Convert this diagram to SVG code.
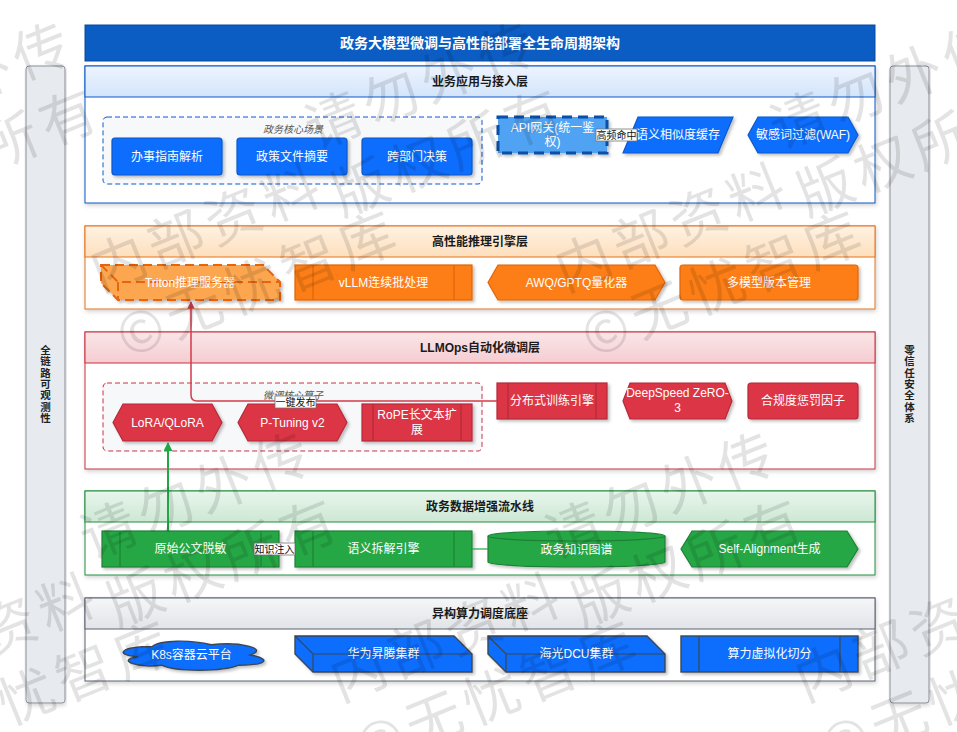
<svg xmlns="http://www.w3.org/2000/svg" width="957" height="732" viewBox="0 0 957 732">
<defs>
<filter id="sh" x="-10%" y="-20%" width="130%" height="150%"><feDropShadow dx="2" dy="2" stdDeviation="1.5" flood-color="#000" flood-opacity="0.25"/></filter>
<filter id="shl" x="-5%" y="-5%" width="110%" height="115%"><feDropShadow dx="1" dy="2" stdDeviation="2" flood-color="#000" flood-opacity="0.18"/></filter>
<linearGradient id="gB" x1="0" y1="0" x2="0" y2="1"><stop offset="0" stop-color="#edf4fe"/><stop offset="1" stop-color="#d3e4fb"/></linearGradient>
<linearGradient id="gO" x1="0" y1="0" x2="0" y2="1"><stop offset="0" stop-color="#fff2e2"/><stop offset="1" stop-color="#fddfbd"/></linearGradient>
<linearGradient id="gR" x1="0" y1="0" x2="0" y2="1"><stop offset="0" stop-color="#fbe6e8"/><stop offset="1" stop-color="#f5ccd1"/></linearGradient>
<linearGradient id="gG" x1="0" y1="0" x2="0" y2="1"><stop offset="0" stop-color="#e8f5ec"/><stop offset="1" stop-color="#cde8d4"/></linearGradient>
<linearGradient id="gK" x1="0" y1="0" x2="0" y2="1"><stop offset="0" stop-color="#f5f6f8"/><stop offset="1" stop-color="#e1e4e8"/></linearGradient>
<marker id="arR" viewBox="0 0 10 10" refX="9" refY="5" markerWidth="5" markerHeight="5" orient="auto"><path d="M0,0 L10,5 L0,10 Z" fill="#d33a4a"/></marker>
<marker id="arG" viewBox="0 0 10 10" refX="9" refY="5" markerWidth="4.5" markerHeight="4.5" orient="auto"><path d="M0,0 L10,5 L0,10 Z" fill="#22a745"/></marker>
</defs>
<style>
text{font-family:"Liberation Sans","Noto Sans CJK SC",sans-serif;}
.t{font-size:12px;fill:#fff;text-anchor:middle;dominant-baseline:central;}
.h{font-size:12px;font-weight:bold;fill:#1a1a1a;text-anchor:middle;dominant-baseline:central;}
.side{font-size:10.5px;font-weight:bold;fill:#222;text-anchor:middle;dominant-baseline:central;}
.grp{font-size:10px;font-style:italic;fill:#555;text-anchor:middle;dominant-baseline:central;}
.lbl{font-size:10px;fill:#111;text-anchor:middle;dominant-baseline:central;}
.lblbox{fill:#fff;stroke:#777;stroke-width:0.8;}
.blue{fill:#0d6efd;stroke:#0a58ca;stroke-width:1.2;filter:url(#sh);}
.orange{fill:#fd7e14;stroke:#e0650b;stroke-width:1.2;filter:url(#sh);}
.red{fill:#dc3545;stroke:#b42a38;stroke-width:1.2;filter:url(#sh);}
.green{fill:#28a745;stroke:#1e8035;stroke-width:1.2;filter:url(#sh);}
.cmp{fill:#0d6efd;stroke:#3b4654;stroke-width:1.4;filter:url(#sh);}
.in{fill:none;stroke-width:1.2;}
.wm{font-family:"Noto Sans CJK SC",sans-serif;font-size:56px;letter-spacing:6px;fill:#000;fill-opacity:0.11;}
</style>
<rect width="957" height="732" fill="#fff"/>

<!-- sidebars -->
<g id="side-left">
<rect x="26" y="66" width="39" height="637" rx="3" fill="#e7eaee" stroke="#8a9099" stroke-width="1" filter="url(#shl)"/>
<text class="side"><tspan x="45.5" y="350">全</tspan><tspan x="45.5" y="361.3">链</tspan><tspan x="45.5" y="372.6">路</tspan><tspan x="45.5" y="383.9">可</tspan><tspan x="45.5" y="395.2">观</tspan><tspan x="45.5" y="406.5">测</tspan><tspan x="45.5" y="417.8">性</tspan></text>
</g>
<g id="side-right">
<rect x="890" y="66" width="39" height="637" rx="3" fill="#e7eaee" stroke="#8a9099" stroke-width="1" filter="url(#shl)"/>
<text class="side"><tspan x="909.5" y="350">零</tspan><tspan x="909.5" y="361.3">信</tspan><tspan x="909.5" y="372.6">任</tspan><tspan x="909.5" y="383.9">安</tspan><tspan x="909.5" y="395.2">全</tspan><tspan x="909.5" y="406.5">体</tspan><tspan x="909.5" y="417.8">系</tspan></text>
</g>

<!-- title -->
<g id="title">
<rect x="85" y="25" width="790" height="36" fill="#0b5cc3" stroke="#084a9e" stroke-width="1"/>
<text x="480" y="43" style="font-size:14px;font-weight:bold;fill:#fff;text-anchor:middle;dominant-baseline:central;">政务大模型微调与高性能部署全生命周期架构</text>
</g>

<!-- layer 1 -->
<g id="layer-app">
<rect x="85" y="66" width="790" height="137" fill="#fff" stroke="#0a58ca" stroke-width="1" filter="url(#shl)"/>
<rect x="85" y="66" width="790" height="31" fill="url(#gB)" stroke="#0a58ca" stroke-width="1"/>
<text class="h" x="480" y="81.5">业务应用与接入层</text>
</g>
<g id="grp-scene">
<rect x="103" y="117" width="379" height="67" rx="4" fill="#f6f8fa" stroke="#0a58ca" stroke-width="1" stroke-dasharray="5 3"/>
<text class="grp" x="293" y="129">政务核心场景</text>
</g>
<g id="n-guide"><rect class="blue" x="112" y="138" width="110" height="37" rx="3"/><text class="t" x="167" y="156.5">办事指南解析</text></g>
<g id="n-policy"><rect class="blue" x="237" y="138" width="110" height="37" rx="3"/><text class="t" x="292" y="156.5">政策文件摘要</text></g>
<g id="n-cross"><rect class="blue" x="362" y="138" width="110" height="37" rx="3"/><text class="t" x="417" y="156.5">跨部门决策</text></g>
<g id="n-api"><rect x="498" y="117" width="109" height="36" fill="#4fa3f2" stroke="#0a4fa8" stroke-width="3" stroke-dasharray="10 6" filter="url(#sh)"/><text class="t"><tspan x="552.5" y="128">API网关(统一鉴</tspan><tspan x="552.5" y="142">权)</tspan></text></g>
<g id="n-cache"><path class="blue" d="M623,153 L638,117 H733 L718,153 Z"/><text class="t" x="678" y="135">语义相似度缓存</text></g>
<g id="n-waf"><path class="blue" d="M748,135 L758,117 H848 L858,135 L848,153 H758 Z"/><text class="t" x="803" y="135">敏感词过滤(WAF)</text></g>

<!-- layer 2 -->
<g id="layer-infer">
<rect x="85" y="226" width="790" height="83" fill="#fff" stroke="#e8701a" stroke-width="1" filter="url(#shl)"/>
<rect x="85" y="226" width="790" height="31" fill="url(#gO)" stroke="#e8701a" stroke-width="1"/>
<text class="h" x="480" y="241.5">高性能推理引擎层</text>
</g>
<g id="n-triton"><path d="M101,265 H263 L280,282 V300 H118 L101,283 Z" fill="#fca650" stroke="#e8640f" stroke-width="2" stroke-dasharray="9 5" filter="url(#sh)"/><path d="M101,265 L118,282 H280 M118,282 V300" fill="none" stroke="#e8640f" stroke-width="2" stroke-dasharray="9 5"/><text class="t" x="190" y="282.5">Triton推理服务器</text></g>
<g id="n-vllm"><rect class="orange" x="295" y="265" width="177" height="35"/><path class="in" stroke="#e0650b" d="M313,265 V300 M454,265 V300"/><text class="t" x="383.5" y="282.5">vLLM连续批处理</text></g>
<g id="n-awq"><path class="orange" d="M488,282.5 L498,265 H655 L665,282.5 L655,300 H498 Z"/><text class="t" x="576.5" y="282.5">AWQ/GPTQ量化器</text></g>
<g id="n-ver"><rect class="orange" x="680" y="265" width="178" height="35" rx="3"/><text class="t" x="769" y="282.5">多模型版本管理</text></g>

<!-- layer 3 -->
<g id="layer-llmops">
<rect x="85" y="332" width="790" height="137" fill="#fff" stroke="#c9303e" stroke-width="1" filter="url(#shl)"/>
<rect x="85" y="332" width="790" height="31" fill="url(#gR)" stroke="#c9303e" stroke-width="1"/>
<text class="h" x="480" y="347.5">LLMOps自动化微调层</text>
</g>
<g id="grp-op">
<rect x="103" y="383" width="379" height="68" rx="4" fill="#f6f8fa" stroke="#c9303e" stroke-width="1" stroke-dasharray="5 3"/>
<text class="grp" x="293" y="395">微调核心算子</text>
</g>
<g id="n-lora"><path class="red" d="M113,422.5 L123,404 H212 L222,422.5 L212,441 H123 Z"/><text class="t" x="167.5" y="422.5">LoRA/QLoRA</text></g>
<g id="n-ptune"><path class="red" d="M238,422.5 L248,404 H337 L347,422.5 L337,441 H248 Z"/><text class="t" x="292.5" y="422.5">P-Tuning v2</text></g>
<g id="n-rope"><rect class="red" x="362" y="404" width="110" height="37"/><path class="in" stroke="#b42a38" d="M373,404 V441 M461,404 V441"/><text class="t"><tspan x="417" y="415">RoPE长文本扩</tspan><tspan x="417" y="430">展</tspan></text></g>
<g id="n-dist"><rect class="red" x="497" y="383" width="110" height="36"/><path class="in" stroke="#b42a38" d="M508,383 V419 M596,383 V419"/><text class="t" x="552" y="401">分布式训练引擎</text></g>
<g id="n-ds"><path class="red" d="M623,401 L630,383 H725 L732,401 L725,419 H630 Z"/><text class="t"><tspan x="677.5" y="393">DeepSpeed ZeRO-</tspan><tspan x="677.5" y="408">3</tspan></text></g>
<g id="n-comp"><rect class="red" x="748" y="383" width="110" height="36" rx="3"/><text class="t" x="803" y="401">合规度惩罚因子</text></g>

<!-- layer 4 -->
<g id="layer-data">
<rect x="85" y="491" width="790" height="84" fill="#fff" stroke="#1e8e3e" stroke-width="1" filter="url(#shl)"/>
<rect x="85" y="491" width="790" height="31" fill="url(#gG)" stroke="#1e8e3e" stroke-width="1"/>
<text class="h" x="480" y="506.5">政务数据增强流水线</text>
</g>
<g id="n-raw"><rect class="green" x="102" y="531" width="177" height="36"/><path class="in" stroke="#1e8035" d="M120,531 V567 M261,531 V567"/><text class="t" x="190.5" y="549">原始公文脱敏</text></g>
<g id="n-sem"><rect class="green" x="295" y="531" width="177" height="36"/><path class="in" stroke="#1e8035" d="M313,531 V567 M454,531 V567"/><text class="t" x="383.5" y="549">语义拆解引擎</text></g>
<g id="n-kg"><path class="green" d="M488,536 A88.5,5 0 0 1 665,536 V562 A88.5,5 0 0 1 488,562 Z"/><path class="in" stroke="#1e8035" d="M488,536 A88.5,5 0 0 0 665,536"/><text class="t" x="576.5" y="550">政务知识图谱</text></g>
<g id="n-self"><path class="green" d="M681,549 L692,531 H847 L858,549 L847,567 H692 Z"/><text class="t" x="769.5" y="549">Self-Alignment生成</text></g>

<!-- layer 5 -->
<g id="layer-compute">
<rect x="85" y="598" width="790" height="83" fill="#fff" stroke="#5a6270" stroke-width="1" filter="url(#shl)"/>
<rect x="85" y="598" width="790" height="31" fill="url(#gK)" stroke="#5a6270" stroke-width="1"/>
<text class="h" x="480" y="613.5">异构算力调度底座</text>
</g>
<g id="n-k8s"><path class="cmp" d="M152.3,646.5 C120.9,646.5 113,655 138.1,656.7 C113,660.4 141.3,668.6 161.7,665.2 C175.8,672 222.9,672 238.6,665.2 C270,665.2 270,658.4 250.4,655 C270,648.2 238.6,641.4 211.1,644.8 C191.5,639.7 160.1,639.7 152.3,646.5 Z"/><text class="t" x="191.5" y="655">K8s容器云平台</text></g>
<g id="n-ascend"><path class="cmp" d="M295,636 H454 L472,654 V672 H313 L295,654 Z"/><path class="in" stroke="#3b4654" stroke-width="1.4" d="M295,636 L313,654 H472 M313,654 V672"/><text class="t" x="383.5" y="654">华为昇腾集群</text></g>
<g id="n-dcu"><path class="cmp" d="M488,636 H647 L665,654 V672 H506 L488,654 Z"/><path class="in" stroke="#3b4654" stroke-width="1.4" d="M488,636 L506,654 H665 M506,654 V672"/><text class="t" x="576.5" y="654">海光DCU集群</text></g>
<g id="n-virt"><rect class="cmp" x="681" y="636" width="177" height="36"/><path class="in" stroke="#3b4654" stroke-width="1.4" d="M699,636 V672 M840,636 V672"/><text class="t" x="769.5" y="654">算力虚拟化切分</text></g>

<!-- connectors -->
<g id="connectors">
<path d="M497,401 H197 Q191,401 191,395 V302" fill="none" stroke="#d33a4a" stroke-width="1.5" marker-end="url(#arR)"/>
<rect class="lblbox" x="275" y="396" width="41" height="12"/>
<text class="lbl" x="295.5" y="402">一键发布</text>
<path d="M168,531 V443" fill="none" stroke="#22a745" stroke-width="2" marker-end="url(#arG)"/>
<path d="M607,135 H623" fill="none" stroke="#0a58ca" stroke-width="1.2"/>
<rect class="lblbox" x="596" y="129" width="41" height="12"/>
<text class="lbl" x="616.5" y="135">高频命中</text>
<path d="M279,549 H295" fill="none" stroke="#22a745" stroke-width="1.2"/>
<rect class="lblbox" x="254" y="543" width="41" height="12"/>
<text class="lbl" x="274.5" y="549">知识注入</text>
<path d="M472,549 H488" fill="none" stroke="#22a745" stroke-width="1.2"/>
</g>

<!-- watermark -->
<g id="watermark" pointer-events="none">
<g transform="translate(100,292) rotate(-22)"><text class="wm">内部资料</text><text class="wm" x="0" y="72">©无忧智库</text></g>
<g transform="translate(565,292) rotate(-22)"><text class="wm">内部资料</text><text class="wm" x="0" y="72">©无忧智库</text></g>
<g transform="translate(340,702) rotate(-22)"><text class="wm">内部资料</text><text class="wm" x="0" y="72">©无忧智库</text></g>
<g transform="translate(805,702) rotate(-22)"><text class="wm">内部资料</text><text class="wm" x="0" y="72">©无忧智库</text></g>
<g transform="translate(-125,702) rotate(-22)"><text class="wm">内部资料</text><text class="wm" x="0" y="72">©无忧智库</text></g>
<g transform="translate(90,560) rotate(-22)"><text class="wm">请勿外传</text><text class="wm" x="0" y="72">版权所有</text></g>
<g transform="translate(555,560) rotate(-22)"><text class="wm">请勿外传</text><text class="wm" x="0" y="72">版权所有</text></g>
<g transform="translate(-150,150) rotate(-22)"><text class="wm">请勿外传</text><text class="wm" x="0" y="72">版权所有</text></g>
<g transform="translate(315,150) rotate(-22)"><text class="wm">请勿外传</text><text class="wm" x="0" y="72">版权所有</text></g>
<g transform="translate(780,150) rotate(-22)"><text class="wm">请勿外传</text><text class="wm" x="0" y="72">版权所有</text></g>
</g>
</svg>
